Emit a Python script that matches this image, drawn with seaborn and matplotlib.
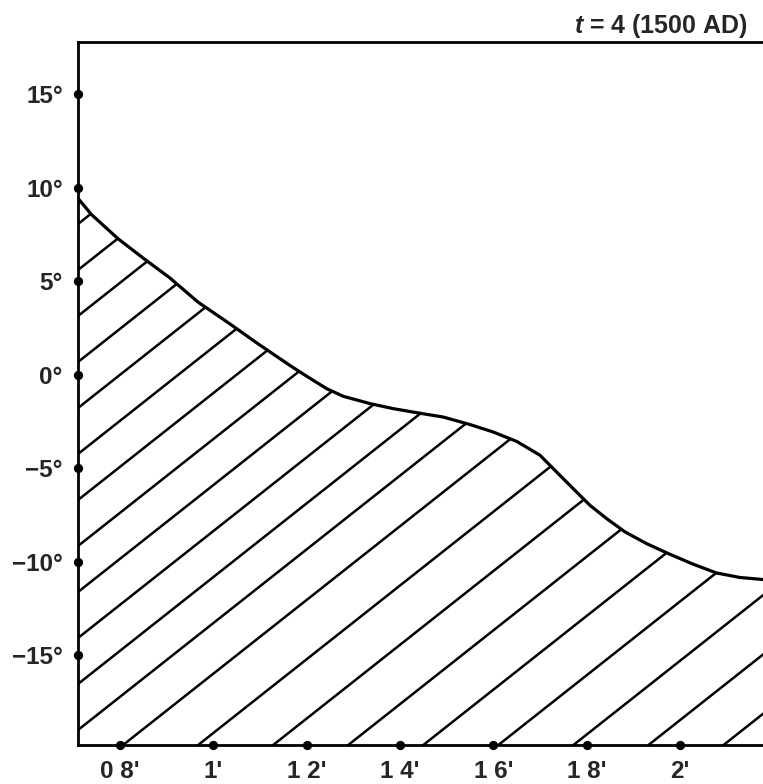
import numpy as np
import pandas as pd
import matplotlib
matplotlib.use("Agg")
import matplotlib.pyplot as plt
import seaborn as sns

# ---- data ----
curve_x = [0.710, 0.7385, 0.7957, 0.8529, 0.9065, 0.9671, 1.0351, 1.0957, 1.1636,
           1.2028, 1.2429, 1.2785, 1.3357, 1.3856, 1.4392, 1.4928, 1.5500, 1.5999,
           1.6500, 1.7000, 1.7357, 1.7713, 1.8071, 1.8429, 1.8821, 1.9286, 1.9749,
           2.0284, 2.0786, 2.1285, 2.178]
curve_y = [9.44, 8.58, 7.28, 6.18, 5.19, 3.89, 2.73, 1.66, 0.51,
           -0.12, -0.74, -1.15, -1.54, -1.81, -2.04, -2.26, -2.66, -3.06,
           -3.56, -4.30, -5.20, -6.09, -6.98, -7.69, -8.40, -9.03, -9.56,
           -10.13, -10.60, -10.84, -10.95]
x_ticks = [0.8, 1.0, 1.2, 1.4, 1.6, 1.8, 2.0]
x_tick_labels = ["0 8'", "1'", "1 2'", "1 4'", "1 6'", "1 8'", "2'"]
y_ticks = [15, 10, 5, 0, -5, -10, -15]
y_tick_labels = ["15°", "10°", "5°", "0°", "\u22125°", "\u221210°", "\u221215°"]
title_text = r"$t$ = 4 (1500 AD)"

xlim = (0.710, 2.178)
ylim = (-19.8, 17.8)

# ---- style ----
sns.set_theme(style="white")
plt.rcParams["font.family"] = ["Liberation Sans", "DejaVu Sans"]
plt.rcParams["font.weight"] = "bold"
plt.rcParams["mathtext.fontset"] = "custom"
plt.rcParams["mathtext.it"] = "Liberation Sans:italic:bold"
plt.rcParams["mathtext.rm"] = "Liberation Sans:bold"

W, H = 763, 784
fig = plt.figure(figsize=(W / 100, H / 100), dpi=100)
ax_l, ax_r, ax_t, ax_b = 78, 763, 42, 745
ax = fig.add_axes([ax_l / W, (H - ax_b) / H, (ax_r - ax_l) / W, (ax_b - ax_t) / H])
ax.set_facecolor("white")

df = pd.DataFrame({"x": curve_x, "y": curve_y})

# filled region (invisible) used as clip for hatch lines
poly = ax.fill_between(df["x"], df["y"], ylim[0], facecolor="none", edgecolor="none")
clip_path = poly.get_paths()[0]

# hand-drawn style hatch: parallel lines, slope in pixel space
aw, ah = ax_r - ax_l, ax_b - ax_t
slope = 0.79
offsets = [15 + 46 * k for k in range(14)] + [-35.6 - 59.3 * k for k in range(0, 10)]
u = np.array([-200.0, 1000.0])
for c in offsets:
    v = slope * u + c
    ln, = ax.plot(u / aw, v / ah, transform=ax.transAxes, color="black", lw=1.8,
                  solid_capstyle="butt", zorder=2)
    ln.set_clip_path(clip_path, ax.transData)

# boundary curve
sns.lineplot(data=df, x="x", y="y", ax=ax, color="black", lw=2.3, sort=False,
             estimator=None, zorder=3)

ax.set_xlim(*xlim)
ax.set_ylim(*ylim)

ax.set_xticks(x_ticks)
ax.set_xticklabels(x_tick_labels, fontsize=17.5, fontweight="bold")
ax.set_yticks(y_ticks)
ax.set_yticklabels(y_tick_labels, fontsize=17.5, fontweight="bold")
ax.tick_params(axis="x", length=0, pad=11)
ax.tick_params(axis="y", length=0, pad=11)
ax.set_xlabel("")
ax.set_ylabel("")

# tick dots on spines
ax.scatter([xlim[0]] * len(y_ticks), y_ticks, s=32, color="black", clip_on=False, zorder=5)
ax.scatter(x_ticks, [ylim[0]] * len(x_ticks), s=32, color="black", clip_on=False, zorder=5)

for side in ["left", "top", "bottom"]:
    ax.spines[side].set_visible(True)
    ax.spines[side].set_color("black")
    ax.spines[side].set_linewidth(2.0)
ax.spines["right"].set_visible(False)

ax.text(0.978, 1.013, title_text, transform=ax.transAxes, ha="right", va="baseline",
        fontsize=18, fontweight="bold")

fig.savefig("out.png", dpi=100, facecolor="white")
